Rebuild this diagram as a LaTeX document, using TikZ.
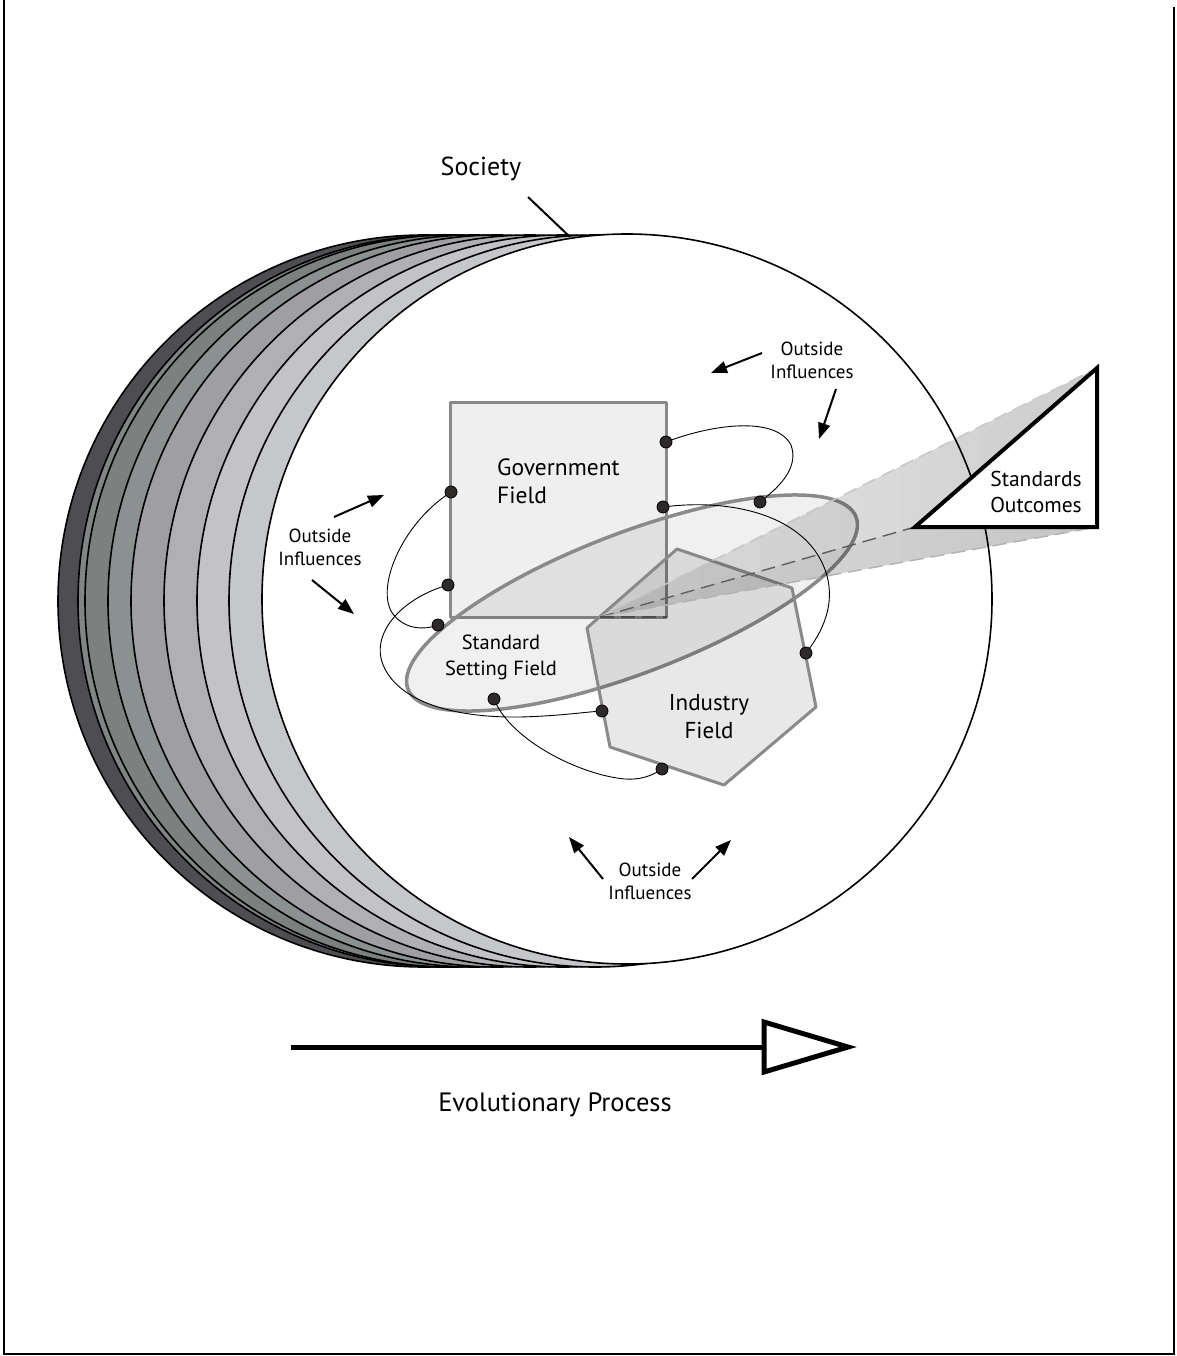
\documentclass[tikz,border=0pt]{standalone}
\usepackage{fontspec}
\setmainfont{PT Sans}
\usetikzlibrary{arrows.meta}
\definecolor{cA}{HTML}{4E4E52}
\definecolor{cB}{HTML}{828585}
\definecolor{cC}{HTML}{7C807F}
\definecolor{cD}{HTML}{8B9190}
\definecolor{cE}{HTML}{9F9FA3}
\definecolor{cF}{HTML}{B0AFB3}
\definecolor{cG}{HTML}{C3C3C7}
\definecolor{cH}{HTML}{C6C7CB}
\definecolor{fgray}{HTML}{8A8A8A}
\definecolor{govfill}{HTML}{EFEFEF}
\definecolor{dotc}{HTML}{2E2A2A}
\begin{document}
\begin{tikzpicture}[x=1pt,y=-1pt,
  lbl/.style={font=\fontsize{19}{23}\selectfont, align=center, inner sep=0pt},
  biglbl/.style={font=\fontsize{23.5}{28}\selectfont, inner sep=0pt},
  oi/.style={-{Triangle[length=16pt,width=12pt]}, line width=2pt},
  conn/.style={line width=0.9pt, black},
  dotn/.style={circle, fill=dotc, draw=black, line width=0.8pt, minimum size=12pt, inner sep=0pt},
  field/.style={draw=fgray, line width=3pt, line join=round},
  beamline/.style={line width=1.4pt, dash pattern=on 14pt off 7pt}]
\useasboundingbox (0,0) rectangle (1176,1356);
% frame
\draw[line width=2pt] (4,0) -- (4,1354) -- (1174,1354) -- (1174,7);
% stacked society circles
\foreach \cx/\col in {424/cA, 444/cB, 451/cC, 474/cD, 497/cE, 530/cF, 563/cG, 595/cH}
  \filldraw[fill=\col, draw=black, line width=1.6pt] (\cx,601) circle (366pt);
\filldraw[fill=white, draw=black, line width=1.6pt] (627,599) circle (365pt);
% society label
\node[biglbl, font=\fontsize{26}{30}\selectfont] (society) at (481,169) {Society};
\coordinate (socA) at (528,197);
\coordinate (socB) at (570,237);
\draw[line width=2pt] (socA) -- (socB);
% government field
\filldraw[field, fill=govfill] (450,402) rectangle (666,617);
% standard setting field
\filldraw[field, line width=3.5pt, fill=black, fill opacity=0.06, rotate around={21:(632,603)}] (632,603) ellipse [x radius=240pt, y radius=70pt];
% industry field
\filldraw[field, fill=black, fill opacity=0.09] (677,549) -- (792,588) -- (816,707) -- (724,785) -- (610,747) -- (587,628) -- cycle;
% beam to standards outcomes
\coordinate (ap) at (600,617);
\coordinate (ap2) at (667,617);
\coordinate (t1) at (1097,368);
\coordinate (t2) at (1097,527);
\coordinate (t3) at (915,527);
\begin{scope}
  \clip (ap) -- (t1) -- (t2) -- cycle;
  \foreach \i in {0,...,24} {
    \pgfmathsetmacro\xa{600+\i*20}
    \pgfmathsetmacro\op{0.08+0.12*\i/24}
    \fill[black, fill opacity=\op] (\xa,300) rectangle (\xa+20,660);
  }
\end{scope}
\begin{scope}
  \clip (ap) -- (t3) -- (t2) -- cycle;
  \fill[black, fill opacity=0.04] (590,500) rectangle (1100,630);
\end{scope}
\draw[beamline, gray!45] (ap) -- (t1);
\draw[beamline, gray!75!black] (ap) -- (t3);
\draw[beamline, gray!60] (ap) -- (t2);
\draw[beamline, gray!60!black] (ap) -- (ap2);
% standards outcomes triangle
\filldraw[fill=white, draw=black, line width=4pt, line join=miter] (t1) -- (t2) -- (t3) -- cycle;
\node[lbl, font=\fontsize{21.5}{26}\selectfont] (outc) at (1036,492) {Standards\\Outcomes};
% field labels
\node[biglbl, align=left, anchor=west] (govt) at (497,481) {Government\\Field};
\node[lbl, font=\fontsize{20.5}{26}\selectfont] (ssf) at (501,657) {Standard\\Setting Field};
\node[lbl, font=\fontsize{23}{28}\selectfont] (ind) at (709,717) {Industry\\Field};
% connection points
\coordinate (p1) at (666,442);
\coordinate (p2) at (760,502);
\coordinate (p3) at (451,492);
\coordinate (p4) at (438,625);
\coordinate (p5) at (448,585);
\coordinate (p6) at (602,711);
\coordinate (p7) at (663,507);
\coordinate (p8) at (806,653);
\coordinate (p9) at (494,699);
\coordinate (p10) at (662,769);
\draw[conn] (p1) .. controls (710,425) and (775,415) .. (791,445) .. controls (800,470) and (775,490) .. (p2);
\draw[conn] (p3) .. controls (400,525) and (375,590) .. (393,614) .. controls (405,630) and (425,630) .. (p4);
\draw[conn] (p5) .. controls (405,597) and (372,630) .. (382,662) .. controls (395,700) and (450,718) .. (520,717) .. controls (560,716) and (585,712) .. (p6);
\draw[conn] (p7) .. controls (740,497) and (815,520) .. (828,580) .. controls (834,610) and (820,635) .. (p8);
\draw[conn] (p9) .. controls (510,740) and (580,775) .. (625,779) .. controls (640,780) and (652,776) .. (p10);
\foreach \p in {p1,p2,p3,p4,p5,p6,p7,p8,p9,p10}
  \node[dotn] (dot-\p) at (\p) {};
% outside influences
\node[lbl] (oitop) at (812,360) {Outside\\Influences};
\node[lbl] (oileft) at (320,547) {Outside\\Influences};
\node[lbl] (oibot) at (650,881) {Outside\\Influences};
\coordinate (a1s) at (762,353); \coordinate (a1e) at (711,373);
\coordinate (a2s) at (836,389); \coordinate (a2e) at (819,439);
\coordinate (a3s) at (334,517); \coordinate (a3e) at (384,495);
\coordinate (a4s) at (312,580); \coordinate (a4e) at (354,614);
\coordinate (a5s) at (603,879); \coordinate (a5e) at (569,837);
\coordinate (a6s) at (692,879); \coordinate (a6e) at (731,840);
\draw[oi] (a1s) -- (a1e);
\draw[oi] (a2s) -- (a2e);
\draw[oi] (a3s) -- (a3e);
\draw[oi] (a4s) -- (a4e);
\draw[oi] (a5s) -- (a5e);
\draw[oi] (a6s) -- (a6e);
% evolutionary process
\coordinate (e1) at (291,1047);
\coordinate (e2) at (764,1047);
\draw[line width=5pt] (e1) -- (e2);
\filldraw[fill=white, draw=black, line width=5pt, line join=miter] (764,1022) -- (848,1047) -- (764,1072) -- cycle;
\node[biglbl, font=\fontsize{26.5}{30}\selectfont] (evo) at (555,1105) {Evolutionary Process};
\end{tikzpicture}
\end{document}
